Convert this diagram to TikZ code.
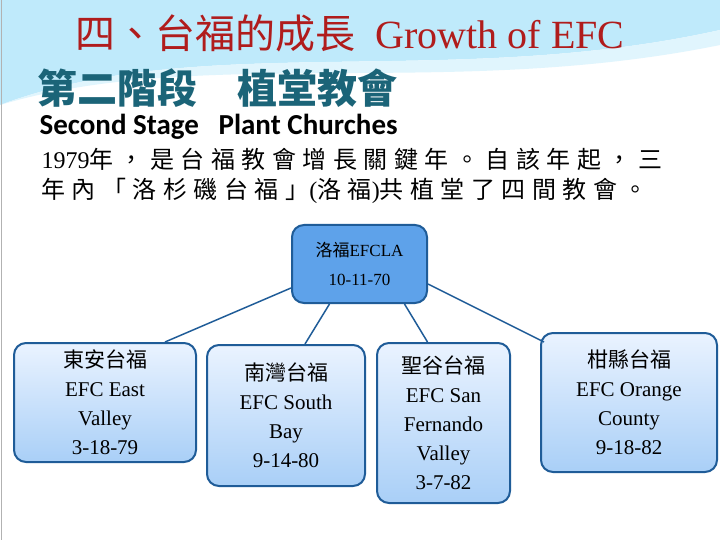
\documentclass[tikz,border=0pt]{standalone}
\usepackage{fontspec}
\setmainfont{Liberation Serif}
\newfontfamily\cjk{Noto Sans CJK TC}
\newfontfamily\cjkwide[LetterSpace=27]{Noto Sans CJK TC}
\newfontfamily\calfont{Carlito}
\usetikzlibrary{positioning}
\definecolor{titlered}{HTML}{B01C1C}
\definecolor{stageteal}{HTML}{1B6478}
\definecolor{rootblue}{HTML}{5EA2EA}
\definecolor{edgeblue}{HTML}{1F5C98}
\definecolor{pale}{HTML}{EAF3FF}
\definecolor{soft}{HTML}{A9CFF7}
\begin{document}
\begin{tikzpicture}[x=1pt, y=-1pt,
  box/.style={draw=edgeblue, line width=2pt, rounded corners=12pt, align=center,
    top color=pale, bottom color=soft, inner sep=0pt, font=\fontsize{21}{29}\selectfont},
  link/.style={draw=edgeblue, line width=1.5pt}]
   %Rahmen und Welle
   \useasboundingbox (0,0) rectangle (720,540);
   \fill[white] (0,0) rectangle (720,540);
   \fill[cyan!25] (0,105) .. controls (200,30) and (450,90) .. (720,30) -- (720,0) -- (0,0) -- cycle;
   \fill[cyan!12] (0,105) .. controls (200,45) and (450,100) .. (720,45) -- (720,30) .. controls (450,90) and (200,30) .. (0,105) -- cycle;
   \draw[gray!60, line width=1pt] (1.5,0) -- (1.5,540);

%Texte
\node[text=titlered, font=\fontsize{40}{44}\selectfont] (titel) at (350,33) {{\cjk 四、台福的成長}\ \ Growth of EFC};
\node[text=stageteal, anchor=west, font=\fontsize{40}{44}\selectfont\cjk\bfseries] (stufe) at (34,88) {第二階段\quad 植堂教會};
\node[anchor=west, font=\fontsize{29}{32}\selectfont\calfont\bfseries] (second) at (36,127) {Second Stage\ \ \ Plant Churches};
\node[anchor=north west, align=left, font=\fontsize{24}{30}\selectfont] (absatz) at (38,145)
  {1979{\cjkwide 年，是台福教會增長關鍵年。自該年起，三}\\{\cjkwide 年內「洛杉磯台福」}({\cjkwide 洛福}){\cjkwide 共植堂了四間教會。}};

%Kaesten
\node[box, top color=rootblue, bottom color=rootblue, minimum width=135pt, minimum height=78pt,
  font=\fontsize{17}{29}\selectfont] (la) at (359.5,264) {{\cjk 洛福}EFCLA\\10-11-70};
\node[box, minimum width=182pt, minimum height=119pt] (east) at (105,402.5) {{\cjk 東安台福}\\EFC East\\Valley\\3-18-79};
\node[box, minimum width=158pt, minimum height=141pt] (south) at (286,415.5) {{\cjk 南灣台福}\\EFC South\\Bay\\9-14-80};
\node[box, minimum width=133pt, minimum height=160pt] (sfv) at (443.5,423) {{\cjk 聖谷台福}\\EFC San\\Fernando\\Valley\\3-7-82};
\node[box, minimum width=176pt, minimum height=139pt] (orange) at (629,402.5) {{\cjk 柑縣台福}\\EFC Orange\\County\\9-18-82};

%Verbindungen
\coordinate (l1) at ([yshift=16pt]la.south west);
\draw[link] (l1) -- ([xshift=60pt]east.north);
\draw[link] ([xshift=-30pt]la.south) -- ([xshift=19pt]south.north);
\draw[link] ([xshift=45pt]la.south) -- ([xshift=-16pt]sfv.north);
\draw[link] ([yshift=-20pt]la.east) -- ([xshift=-85pt,yshift=-10pt]orange.north);
\end{tikzpicture}
\end{document}
